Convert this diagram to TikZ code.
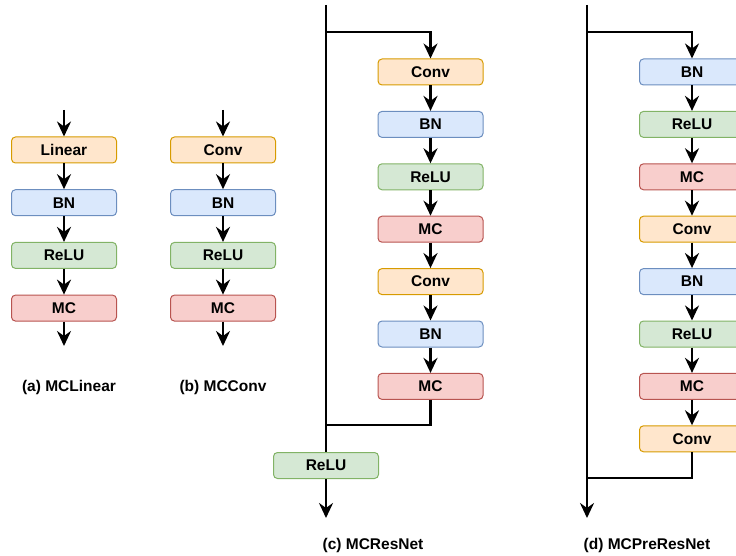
\documentclass[tikz,border=0pt]{standalone}
\usepackage{fontspec}
\setmainfont{Liberation Sans}
\usetikzlibrary{arrows.meta}
\definecolor{orf}{HTML}{FFE6CC}\definecolor{ord}{HTML}{D79B00}
\definecolor{blf}{HTML}{DAE8FC}\definecolor{bld}{HTML}{6C8EBF}
\definecolor{grf}{HTML}{D5E8D4}\definecolor{grd}{HTML}{82B366}
\definecolor{rdf}{HTML}{F8CECC}\definecolor{rdd}{HTML}{B85450}
\tikzset{
  blk/.style={rectangle, rounded corners=4pt, minimum width=105pt, minimum height=26pt, inner sep=0pt, line width=1pt, font=\fontsize{15.5}{18}\selectfont\bfseries},
  orb/.style={blk, fill=orf, draw=ord},
  blb/.style={blk, fill=blf, draw=bld},
  grb/.style={blk, fill=grf, draw=grd},
  rdb/.style={blk, fill=rdf, draw=rdd},
  wire/.style={line width=2.8pt},
  arr/.style={wire, -{Stealth[length=15pt,width=14pt,inset=5pt]}},
  captxt/.style={font=\fontsize{15.5}{18}\selectfont\bfseries}
}
\begin{document}
\begin{tikzpicture}[x=1pt,y=-1pt]
\useasboundingbox (0,0) rectangle (736,556);
\clip (0,0) rectangle (736,556);
% (a)
\coordinate (a0) at (64,110);
\node[orb] (a1) at (64,150) {Linear};
\node[blb] (a2) at (64,202.7) {BN};
\node[grb] (a3) at (64,255.4) {ReLU};
\node[rdb] (a4) at (64,308.1) {MC};
\coordinate (a5) at (64,346);
\draw[arr] (a0) -- (a1.north);
\draw[arr] (a1.south) -- (a2.north);
\draw[arr] (a2.south) -- (a3.north);
\draw[arr] (a3.south) -- (a4.north);
\draw[arr] (a4.south) -- (a5);
\node[captxt] (alab) at (69,387) {(a) MCLinear};
% (b)
\coordinate (b0) at (223,110);
\node[orb] (b1) at (223,150) {Conv};
\node[blb] (b2) at (223,202.7) {BN};
\node[grb] (b3) at (223,255.4) {ReLU};
\node[rdb] (b4) at (223,308.1) {MC};
\coordinate (b5) at (223,346);
\draw[arr] (b0) -- (b1.north);
\draw[arr] (b1.south) -- (b2.north);
\draw[arr] (b2.south) -- (b3.north);
\draw[arr] (b3.south) -- (b4.north);
\draw[arr] (b4.south) -- (b5);
\node[captxt] (blab) at (223,387) {(b) MCConv};
% (c)
\coordinate (c0) at (326,5);
\coordinate (cs) at (326,32);
\node[orb] (c1) at (430.5,72) {Conv};
\node[blb] (c2) at (430.5,124.4) {BN};
\node[grb] (c3) at (430.5,176.8) {ReLU};
\node[rdb] (c4) at (430.5,229.2) {MC};
\node[orb] (c5) at (430.5,281.6) {Conv};
\node[blb] (c6) at (430.5,334) {BN};
\node[rdb] (c7) at (430.5,386.4) {MC};
\coordinate (cm) at (326,425);
\node[grb] (c8) at (326,465.5) {ReLU};
\coordinate (c9) at (326,518);
\draw[wire] (c0) -- (c8.north);
\draw[arr] (cs) -| (c1.north);
\draw[arr] (c1.south) -- (c2.north);
\draw[arr] (c2.south) -- (c3.north);
\draw[arr] (c3.south) -- (c4.north);
\draw[arr] (c4.south) -- (c5.north);
\draw[arr] (c5.south) -- (c6.north);
\draw[arr] (c6.south) -- (c7.north);
\draw[wire] (c7.south) |- (cm);
\draw[arr] (c8.south) -- (c9);
\node[captxt] (clab) at (373,545) {(c) MCResNet};
% (d)
\coordinate (d0) at (587,5);
\coordinate (ds) at (587,32);
\node[blb] (d1) at (692,72) {BN};
\node[grb] (d2) at (692,124.4) {ReLU};
\node[rdb] (d3) at (692,176.8) {MC};
\node[orb] (d4) at (692,229.2) {Conv};
\node[blb] (d5) at (692,281.6) {BN};
\node[grb] (d6) at (692,334) {ReLU};
\node[rdb] (d7) at (692,386.4) {MC};
\node[orb] (d8) at (692,438.8) {Conv};
\coordinate (dm) at (587,478);
\coordinate (d9) at (587,518);
\draw[arr] (d0) -- (d9);
\draw[arr] (ds) -| (d1.north);
\draw[arr] (d1.south) -- (d2.north);
\draw[arr] (d2.south) -- (d3.north);
\draw[arr] (d3.south) -- (d4.north);
\draw[arr] (d4.south) -- (d5.north);
\draw[arr] (d5.south) -- (d6.north);
\draw[arr] (d6.south) -- (d7.north);
\draw[arr] (d7.south) -- (d8.north);
\draw[wire] (d8.south) |- (dm);
\node[captxt] (dlab) at (647,545) {(d) MCPreResNet};
\end{tikzpicture}
\end{document}
